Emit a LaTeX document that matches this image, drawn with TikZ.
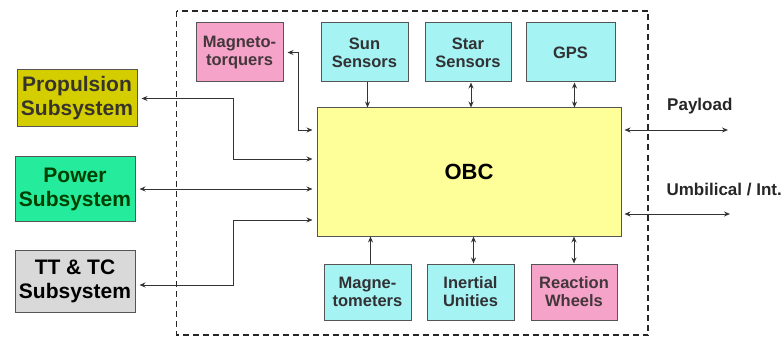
\documentclass[tikz,border=0pt]{standalone}
\usepackage{fontspec}
\setmainfont{Liberation Sans}
\usetikzlibrary{arrows.meta}
\definecolor{propfill}{HTML}{D4CE00}
\definecolor{powfill}{HTML}{24EC9C}
\definecolor{ttfill}{HTML}{D9D9D9}
\definecolor{pinkfill}{HTML}{F5A3C9}
\definecolor{cyanfill}{HTML}{A5F3F3}
\definecolor{obcfill}{HTML}{FFFF99}
\definecolor{edge}{HTML}{555555}
\begin{document}
\begin{tikzpicture}[x=1pt,y=-1pt,
  box/.style={draw=edge, line width=1pt, inner sep=0pt, align=center},
  bigbox/.style={box, minimum width=120, font=\bfseries\fontsize{21}{24}\selectfont},
  smallbox/.style={box, minimum width=87, font=\bfseries\fontsize{16.5}{18}\selectfont},
  cyanbox/.style={smallbox, fill=cyanfill, text=black!85!cyan!60!black},
  pinkbox/.style={smallbox, fill=pinkfill, text=black!85!magenta},
  conn/.style={draw=black!80, line width=0.9pt},
  both/.style={conn, {Stealth[length=6pt,width=5pt]}-{Stealth[length=6pt,width=5pt]}},
  one/.style={conn, -{Stealth[length=6pt,width=5pt]}},
  lbl/.style={font=\bfseries\fontsize{17}{20}\selectfont, text=black!85, inner sep=0pt}
]
\useasboundingbox (0,0) rectangle (784,339);
% dashed frame
\draw[draw=black!85, line width=1.6pt, dash pattern=on 6pt off 4pt] (176.5,11) rectangle (648,335);

% left subsystems
\node[bigbox, fill=propfill, text=black!80!olive, minimum height=57] (prop) at (77,98.5) {Propulsion\\Subsystem};
\node[bigbox, fill=powfill, text=black!75!green, minimum height=64] (pow) at (75,189) {Power\\Subsystem};
\node[bigbox, fill=ttfill, text=black, minimum height=62] (tt) at (75,281) {TT \& TC\\Subsystem};

% OBC
\node[box, fill=obcfill, minimum width=304, minimum height=128, font=\bfseries\fontsize{22}{24}\selectfont] (obc) at (469,172) {OBC};

% top boxes
\node[pinkbox, minimum height=59] (mt) at (239.5,52.5) {Magneto-\\torquers};
\node[cyanbox, minimum height=59] (sun) at (364.5,52.5) {Sun\\Sensors};
\node[cyanbox, minimum height=59, minimum width=86] (star) at (468,52.5) {Star\\Sensors};
\node[cyanbox, minimum height=59, minimum width=89] (gps) at (570.5,52.5) {GPS};

% bottom boxes
\node[cyanbox, minimum height=56] (mag) at (367.5,292) {Magne-\\tometers};
\node[cyanbox, minimum height=56] (ine) at (470.5,292) {Inertial\\Unities};
\node[pinkbox, minimum height=56, minimum width=86] (rw) at (574,292) {Reaction\\Wheels};

% left connectors
\coordinate (mtj) at (298,130);
\coordinate (prj) at (233,159);
\coordinate (ttj) at (233,220);
\draw[both, shorten <=4pt, shorten >=4pt] (mt.east) -| (mtj) -- (mtj -| obc.west);
\draw[both, shorten <=4pt, shorten >=4pt] (prop.east) -| (prj) -- (prj -| obc.west);
\draw[both, shorten <=4pt, shorten >=4pt] (pow.east) -- (pow.east -| obc.west);
\draw[both, shorten <=4pt, shorten >=4pt] ([yshift=-4]tt.east) -| (ttj) -- (ttj -| obc.west);

% top connectors
\draw[one] ([xshift=3]sun.south) -- ([xshift=3]sun.south |- obc.north);
\draw[both] ([xshift=3]star.south) -- ([xshift=3]star.south |- obc.north);
\draw[both] ([xshift=4]gps.south) -- ([xshift=4]gps.south |- obc.north);

% bottom connectors
\draw[one] ([xshift=3]mag.north) -- ([xshift=3]mag.north |- obc.south);
\draw[both] ([xshift=3]ine.north) -- ([xshift=3]ine.north |- obc.south);
\draw[both] (rw.north) -- (rw.north |- obc.south);

% right connectors
\coordinate (pl) at (728,130);
\coordinate (um) at (730,214);
\draw[both, shorten <=3pt] (pl -| obc.east) -- (pl);
\draw[both, shorten <=3pt] (um -| obc.east) -- (um);
\node[lbl, anchor=west] (pltext) at (667,106) {Payload};
\node[lbl, anchor=east] (umtext) at (782,190) {Umbilical / Int.};
\end{tikzpicture}
\end{document}
